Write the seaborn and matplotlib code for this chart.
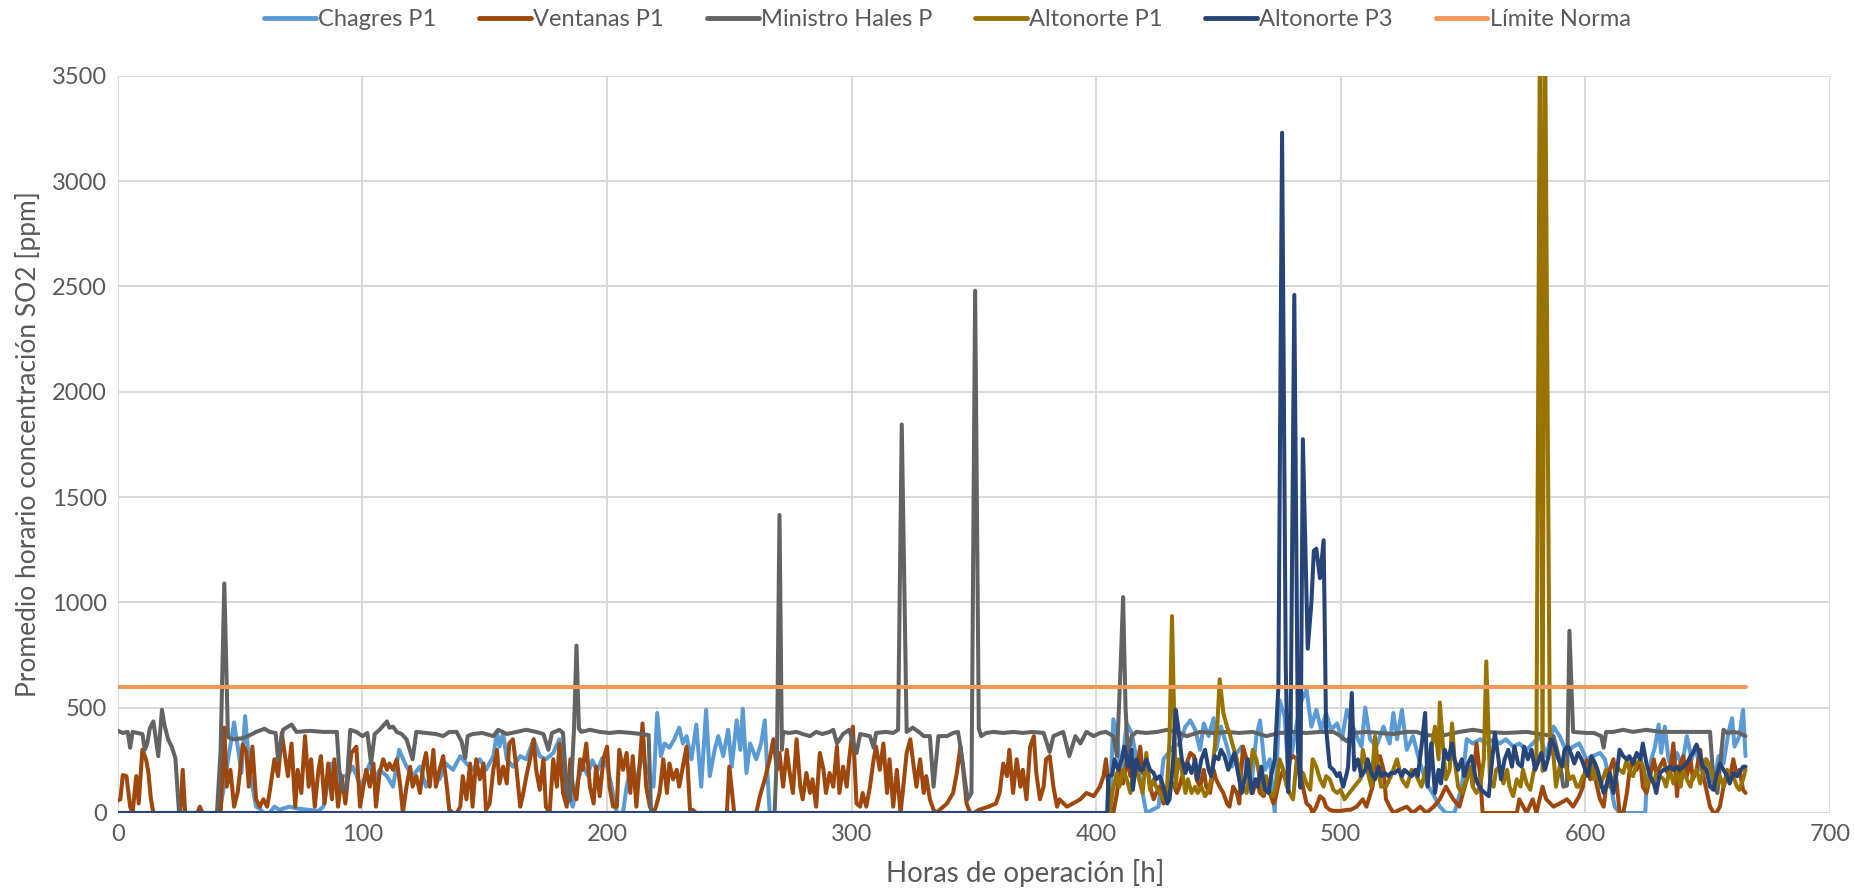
import matplotlib
matplotlib.use("Agg")
import matplotlib.pyplot as plt
import seaborn as sns
import pandas as pd

# (hora, ppm)
chagres = [(0,0),(41.5,0),(43,100),(45,250),(47.5,430),(49,315),(50.5,190),(52,460),(54,190),(55.5,95),(56.5,30),(58,20),(59.5,0),(62,0),(64,30),(66,15),(70,30),(74,20),(78,15),(82,10),(84,30),(86,150),(87.5,235),(89,200),(90.5,125),(92,175),(93.5,175),(95,200),(96,220),(97.5,180),(99,125),(101,170),(103,235),(105,160),(107,205),(110,175),(112.5,125),(115,300),(118,220),(120.5,175),(123.5,220),(126,125),(129,205),(131.5,160),(134,235),(137,205),(140,270),(142.5,235),(145,205),(148,255),(150.5,205),(153.5,270),(155,385),(156,315),(157.5,380),(159,255),(161.5,220),(164.5,270),(167,255),(170,350),(172.5,270),(175,255),(178,285),(180.5,350),(182,200),(183.5,95),(186,30),(188,150),(190,230),(192,180),(194,250),(196,200),(198,260),(200,220),(202,120),(204,0),(206.5,0),(208,125),(209.5,205),(212,160),(214.5,270),(217,190),(219,125),(220.5,475),(222,270),(223.5,330),(225.5,310),(227.5,350),(229.5,405),(231,330),(232.5,365),(234.5,255),(236.5,420),(238.5,125),(240.5,490),(242,175),(244,300),(245.5,365),(247.5,270),(249.5,395),(251,220),(253,440),(254.5,300),(255.5,495),(257,190),(258.5,330),(261,255),(263,330),(264.5,440),(265.5,205),(266.5,0),(405.5,0),(407,445),(408.5,380),(410,175),(412.5,425),(414.5,380),(416.5,255),(418.5,125),(420.5,0),(425.5,30),(427.5,255),(429.5,285),(431.5,315),(434,330),(436.5,410),(438.5,440),(440.5,395),(442.5,300),(444,425),(446,365),(448,450),(449,300),(451,410),(453.5,315),(455.5,220),(457.5,285),(459.5,315),(461.5,205),(463.5,140),(465.5,365),(467,440),(469,205),(471,255),(473,0),(475,535),(477,460),(478.5,205),(480,285),(482,425),(484,535),(486,585),(488,410),(490,490),(492,395),(494,475),(496,395),(498.5,425),(500.5,350),(502.5,490),(505,410),(507,350),(508.5,315),(510,500),(512,350),(514.5,315),(517.5,410),(520,330),(521.5,475),(523,350),(525,490),(527,300),(529.5,365),(532,255),(535,140),(537.5,95),(540.5,30),(543,0),(546.5,0),(548,65),(549.5,125),(551.5,350),(554,330),(557,350),(559.5,330),(562.5,350),(565,330),(567.5,350),(570.5,315),(573,330),(576,300),(578.5,330),(581.5,365),(584,270),(587,410),(589.5,365),(592.5,285),(595,315),(597.5,330),(600.5,255),(603,270),(606,285),(608,255),(609.5,175),(611,95),(612,30),(614,0),(624.5,0),(625,125),(627,255),(628.5,315),(630,420),(631,285),(632.5,410),(634,255),(635.5,205),(637.5,285),(639.5,220),(641.5,365),(643.5,255),(645,315),(647,205),(649,255),(651,190),(652.5,140),(654.5,270),(656.5,235),(658.5,380),(660,450),(661,315),(663,365),(664.5,490),(665.5,270)]

ventanas = [(0,60),(1,65),(2,180),(3.5,175),(5,30),(6,0),(7.5,175),(8.5,45),(10,300),(11.5,255),(12.5,190),(13.5,65),(14.5,0),(25.5,0),(26.5,205),(27.5,0),(32.5,0),(33.5,30),(34.5,0),(42,0),(43.5,405),(44.5,125),(46,205),(47.5,30),(49,100),(50,205),(51,325),(52.5,290),(53.5,125),(55,315),(56.5,65),(58,30),(59.5,65),(61,30),(62,95),(64,255),(65.5,175),(67,380),(68.5,255),(69.5,175),(71,330),(72.5,30),(73.5,205),(75,95),(76.5,365),(78,125),(79,255),(80.5,30),(82,205),(83,270),(84.5,45),(86,235),(87.5,65),(88.5,255),(90,30),(91.5,175),(93,45),(94,160),(95.5,285),(97.5,315),(99,30),(100,100),(101.5,205),(103,125),(104.5,235),(105.5,30),(107,190),(108.5,255),(110,205),(111,235),(112.5,205),(114,255),(115.5,125),(116.5,0),(118,125),(119.5,220),(120.5,125),(122,175),(123.5,95),(125,235),(126,285),(127.5,125),(129,300),(130,125),(131.5,205),(133,270),(134.5,125),(135.5,15),(137,0),(138.5,0),(140,30),(141,175),(142.5,65),(144,235),(145,30),(146.5,255),(148,160),(149.5,235),(150.5,15),(152,45),(153.5,205),(155,300),(156,140),(157.5,220),(159,140),(160,330),(161.5,350),(163,205),(164.5,30),(165.5,80),(167,175),(168.5,255),(170,350),(171,205),(172.5,110),(174,255),(175,30),(176.5,0),(178,255),(179.5,125),(180.5,330),(182,95),(183.5,30),(185,255),(186,125),(187.5,65),(189,255),(190,205),(191.5,330),(193,125),(194.5,45),(195.5,220),(197,80),(198.5,255),(200,315),(201,125),(202.5,30),(204,30),(205,300),(206.5,205),(208,285),(209.5,95),(210.5,270),(212,30),(213.5,255),(214.5,425),(216,125),(217.5,30),(219,0),(220,30),(221.5,95),(223,255),(224.5,95),(225.5,235),(227,160),(228.5,205),(229.5,125),(231,220),(232.5,315),(234,0),(235,15),(236.5,0),(249,0),(250,220),(252,0),(261,0),(262.5,80),(264.5,160),(266.5,255),(268,350),(269.5,205),(270.5,285),(272,125),(273.5,300),(274.5,205),(276,95),(277.5,350),(279,125),(280,65),(281.5,190),(283,95),(284,160),(285.5,30),(287,285),(288.5,205),(289.5,95),(291,190),(292.5,125),(294,315),(295,95),(296.5,220),(298,125),(299,255),(300.5,410),(302,45),(303.5,30),(304.5,95),(306,30),(307.5,125),(309,255),(310,315),(311.5,205),(313,330),(314.5,95),(315.5,255),(317,30),(318.5,205),(320,0),(321,110),(322.5,285),(324,350),(325,255),(326.5,125),(328,255),(329.5,95),(330.5,175),(332,65),(333.5,15),(335,0),(336,15),(339,45),(341.5,95),(343,190),(344.5,315),(345.5,220),(347,45),(348.5,0),(350,0),(352,15),(356,30),(359,45),(360.5,95),(362,235),(363.5,175),(364.5,300),(366,95),(367.5,255),(369,125),(370,205),(371.5,65),(373,315),(374.5,365),(375.5,190),(377,65),(378.5,125),(379.5,255),(381,270),(382.5,125),(384,30),(385,65),(388,30),(390.5,45),(393.5,65),(396,95),(399,80),(401.5,125),(403,175),(404,255),(405,130),(406,0),(407,0),(408.5,95),(409.5,205),(411,140),(412.5,255),(414,175),(415,255),(416.5,205),(418,315),(419,190),(420.5,255),(422,125),(423.5,65),(424.5,95),(426,125),(427.5,45),(429,80),(430,125),(431.5,140),(433,95),(434,125),(435.5,190),(437,235),(438.5,285),(440,270),(441,160),(442.5,125),(444,205),(445,125),(446.5,95),(448,205),(449,160),(450.5,125),(452,95),(453.5,45),(454.5,30),(456,125),(457.5,95),(458.5,45),(460,315),(461.5,255),(463,140),(464,95),(465.5,160),(467,95),(468.5,80),(469.5,125),(471,95),(472.5,45),(473.5,80),(475,160),(476.5,205),(478,125),(479,255),(480.5,270),(482,255),(483.5,205),(484.5,125),(486,45),(487.5,30),(488.5,0),(490,30),(491.5,80),(493,65),(494,30),(495.5,15),(497,10),(500,10),(502.5,15),(504,15),(506.5,30),(509,65),(510.5,30),(513,125),(514.5,255),(516,270),(517.5,205),(518.5,65),(520,30),(521.5,0),(524,15),(527,30),(529.5,0),(532.5,30),(535,0),(538,30),(540.5,65),(543,125),(546,65),(548.5,30),(550,95),(553,220),(554,125),(555.5,330),(557,175),(558,0),(572,0),(573,65),(576,0),(578.5,65),(580,0),(582.5,125),(584,65),(587,30),(589.5,45),(592.5,65),(595,30),(597.5,80),(599,125),(600.5,250),(602,160),(603,235),(604.5,140),(606,65),(607.5,30),(608.5,125),(610,205),(611.5,255),(613,125),(614,0),(615.5,0),(617,95),(618,190),(619.5,255),(621,205),(622.5,255),(623.5,125),(625,95),(626.5,175),(628,255),(629,190),(630.5,220),(632,255),(633,205),(634.5,175),(636,330),(637.5,80),(638.5,220),(640,270),(641.5,175),(643,255),(644,160),(645.5,205),(647,300),(648,190),(649.5,110),(651,30),(652.5,0),(653.5,0),(655,30),(656.5,125),(658,175),(659,160),(660.5,255),(662,175),(663,205),(664.5,110),(665.5,95)]

ministro_hales = [(0,390),(2,380),(4,385),(5,310),(6,385),(8,380),(10,375),(11,300),(12,330),(13,400),(14.5,435),(16.5,270),(18,490),(19,420),(20.5,350),(22,315),(23.5,260),(25,0),(40.5,0),(42,300),(43.5,1090),(45,360),(47,350),(51,355),(54,370),(56.5,385),(60,400),(62,385),(64.5,380),(65.5,255),(67.5,395),(71,420),(73,385),(78.5,390),(84,385),(89.5,385),(90.5,205),(92,110),(93.5,125),(95,395),(97.5,385),(100,365),(102,380),(103.5,235),(105,375),(107,395),(110,435),(111,405),(112.5,410),(114,385),(116,375),(118,350),(120.5,255),(122,385),(126,380),(130,375),(133,365),(135.5,385),(138.5,385),(140.5,340),(142,260),(143,365),(145,375),(149,380),(153.5,365),(155.5,395),(159,375),(163,385),(167,395),(171,385),(174,375),(176,300),(177.5,380),(180.5,395),(182,380),(183.5,100),(185,60),(186.5,400),(187.5,795),(188.5,400),(189.5,385),(193,395),(197,385),(201,380),(205,385),(210,380),(214,375),(217,370),(218,0),(268.5,0),(269.5,300),(270.5,1415),(271.5,300),(272,385),(274.5,380),(277.5,385),(280,375),(283,365),(285.5,385),(288,375),(291,385),(292.5,395),(294,330),(296.5,375),(299,395),(302,285),(303.5,375),(307.5,365),(309,310),(310,380),(314,385),(317,380),(319,395),(320.5,1845),(322.5,385),(325,405),(327.5,385),(329.5,365),(332,365),(333.5,125),(335.5,365),(339,365),(341.5,380),(343.5,385),(344.5,315),(346.5,140),(347.5,65),(349,95),(350.5,2480),(352,400),(353,365),(355,380),(358,385),(362,380),(366,385),(370,380),(374,385),(378.5,380),(381,290),(382.5,365),(386.5,385),(389,270),(391.5,365),(393.5,330),(396,385),(399,365),(401.5,380),(404,385),(407,365),(408.5,270),(410,700),(411,1025),(412,500),(413,270),(414.5,365),(416.5,385),(420.5,380),(425,385),(429,395),(433,385),(437,365),(442.5,385),(448,380),(453.5,385),(458.5,380),(464,385),(469.5,365),(475,380),(480.5,385),(486,380),(491.5,385),(497,385),(500,365),(502.5,340),(505,380),(510.5,385),(516,380),(521.5,375),(524,380),(527,385),(531,385),(535,370),(540.5,365),(548.5,385),(554,395),(559.5,385),(567.5,380),(576,385),(581.5,375),(587,365),(589.5,250),(591,125),(592.5,130),(593.5,865),(595,385),(600.5,380),(603.5,380),(606.5,365),(607.5,310),(608.5,385),(611.5,385),(615.5,395),(619.5,385),(625,395),(630.5,385),(636,385),(641.5,385),(647,385),(651,385),(652.5,130),(654,95),(656.5,395),(658,380),(660.5,385),(663,380),(665.5,365)]

altonorte_p1 = [(0,0),(405.5,0),(407,125),(408.5,190),(409.5,125),(411,205),(412.5,160),(414,95),(415,175),(416.5,205),(418,140),(419,95),(420.5,285),(422,110),(423.5,160),(424.5,125),(426,95),(427.5,65),(429,125),(430,350),(431,935),(432,380),(432.5,125),(433.5,255),(435,205),(436.5,95),(437.5,160),(439,95),(440.5,125),(441.5,95),(443,125),(444.5,80),(446,110),(447,160),(448.5,315),(449.5,410),(450.5,635),(452,475),(453.5,410),(454.5,380),(456,315),(457.5,255),(458.5,205),(460,125),(461.5,95),(463,205),(464,300),(465.5,255),(467,160),(468.5,95),(469.5,175),(471,95),(472.5,80),(473.5,125),(475,255),(476.5,205),(478,125),(479,95),(480.5,65),(482,255),(483.5,160),(484.5,190),(486,140),(487.5,110),(488.5,255),(490,220),(491.5,160),(493,125),(494,175),(495.5,160),(497,110),(498.5,95),(500,110),(501.5,65),(503.5,95),(505.5,125),(508,160),(509,300),(510.5,220),(512.5,125),(514,365),(515.5,190),(516.5,125),(518.5,125),(520.5,175),(523,255),(525,160),(527,125),(529,205),(531,175),(533,125),(535,220),(536.5,255),(538.5,410),(540,255),(540.5,525),(542,285),(543,160),(544.5,205),(545.5,425),(546.5,255),(548,125),(549.5,95),(551.5,160),(553,220),(554,125),(555.5,95),(557,125),(558.5,255),(559.5,720),(561,160),(562.5,125),(563.5,205),(565,220),(566.5,140),(568,205),(569,125),(570.5,80),(572,160),(573.5,125),(574.5,205),(576,140),(577.5,110),(578.5,175),(580,255),(581.5,3900),(582.5,200),(583.5,3800),(585.5,330),(587,270),(588,125),(589.5,220),(591,255),(592.5,205),(593.5,160),(595,175),(596.5,125),(597.5,125),(599,175),(600.5,190),(602,255),(603.5,160),(604.5,205),(606,125),(607.5,175),(608.5,205),(610,125),(611.5,160),(613,220),(614,205),(615.5,190),(617,255),(618,205),(619.5,175),(621,235),(622.5,255),(624,205),(625,125),(626.5,175),(628,140),(629,190),(630.5,175),(632,160),(633,125),(634.5,205),(636,140),(637.5,190),(639,125),(640,205),(641.5,160),(643,125),(644,175),(645.5,205),(647,140),(648,190),(649.5,255),(651,220),(652.5,160),(653.5,125),(655,175),(656.5,125),(658,205),(659,160),(660.5,175),(662,125),(663,110),(664.5,160),(665.5,205)]

altonorte_p3 = [(0,0),(404.5,0),(405,175),(406.5,180),(407.5,255),(409,205),(410.5,255),(411.5,315),(413,220),(414.5,300),(415,110),(416.5,255),(418,205),(419,205),(420.5,255),(422,205),(423.5,190),(424.5,160),(426,175),(427.5,125),(429,45),(430,65),(431.5,255),(432.5,490),(433.5,410),(435,255),(436.5,190),(437.5,235),(439,190),(440.5,255),(441.5,160),(443,255),(444.5,300),(446,205),(447,175),(448.5,270),(450,255),(451,300),(452.5,270),(454,205),(455.5,255),(456.5,285),(458,190),(459.5,95),(461,175),(462,255),(463.5,95),(465,160),(466,125),(467.5,220),(469,110),(470.5,95),(471.5,175),(473,255),(474.5,600),(476,3230),(477.5,700),(478.5,100),(479.5,400),(481,2460),(482.5,300),(483.5,120),(484.5,1775),(486.5,780),(488,1000),(489,1245),(490,1255),(491.5,1115),(493,1295),(494,400),(495.5,220),(497,205),(498.5,175),(499.5,190),(501,125),(502.5,190),(503,220),(504.5,570),(505.5,205),(507,255),(508.5,175),(510,205),(511,255),(512.5,190),(514,160),(515.5,220),(516.5,175),(518,190),(519.5,175),(520.5,190),(522,190),(523.5,205),(525,175),(526,205),(527.5,190),(529,175),(530.5,205),(531.5,175),(533,315),(534.5,475),(535.5,125),(537,330),(538.5,95),(540,205),(541,140),(542.5,300),(544,255),(545.5,330),(546.5,255),(548,205),(549.5,255),(550.5,175),(552,235),(553.5,270),(555,175),(556,140),(557.5,110),(559,95),(560.5,80),(561.5,205),(563,380),(564.5,255),(565.5,160),(567,255),(568.5,300),(570,220),(571,315),(572.5,235),(574,220),(575,315),(576.5,255),(578,300),(579.5,205),(580.5,235),(582,285),(583.5,205),(585,270),(586,350),(587.5,315),(589,255),(590.5,220),(591.5,300),(593,315),(594.5,270),(595.5,235),(597,285),(598.5,255),(600,205),(601,175),(602.5,270),(604,235),(605,205),(606,160),(607.5,95),(608.5,125),(610,190),(611.5,95),(613,205),(614,300),(615.5,270),(617,255),(618,270),(619.5,235),(621,285),(622.5,255),(623.5,330),(625,235),(626.5,175),(628,140),(629,95),(630.5,190),(632,205),(633,205),(634.5,220),(636,205),(637.5,220),(638.5,205),(640,220),(641.5,235),(643,270),(644,285),(645.5,325),(647,270),(648,220),(649.5,205),(651,125),(652.5,110),(653.5,175),(655,235),(656.5,205),(658,175),(659,140),(660.5,190),(662,175),(663,190),(664.5,220),(665.5,220)]

limite_norma = [(0,600),(665.5,600)]

series_names = ["Chagres P1", "Ventanas P1", "Ministro Hales P", "Altonorte P1", "Altonorte P3", "Límite Norma"]
series_data = [chagres, ventanas, ministro_hales, altonorte_p1, altonorte_p3, limite_norma]
colors = ["#5B9BD5", "#9E480E", "#636363", "#997300", "#264478", "#F1975A"]

x_ticks = [0, 100, 200, 300, 400, 500, 600, 700]
y_ticks = [0, 500, 1000, 1500, 2000, 2500, 3000, 3500]

frames = []
for name, pts in zip(series_names, series_data):
    d = pd.DataFrame(pts, columns=["hora", "ppm"])
    d["serie"] = name
    frames.append(d)
df = pd.concat(frames, ignore_index=True)

sns.set_style("white")
plt.rcParams["font.family"] = ["Lato", "DejaVu Sans"]
text_color = "#595959"

fig = plt.figure(figsize=(18.54, 8.93), dpi=100)
ax = fig.add_axes([0.0636, 0.0896, 0.9234, 0.8254])

sns.lineplot(data=df, x="hora", y="ppm", hue="serie", hue_order=series_names,
             palette=colors, estimator=None, sort=False, linewidth=2.9, ax=ax)
for line in ax.lines:
    line.set_solid_joinstyle("round")

ax.set_xlim(0, 700)
ax.set_ylim(0, 3500)
ax.set_xticks(x_ticks)
ax.set_yticks(y_ticks)
ax.grid(True, color="#D9D9D9", linewidth=1.4)
ax.set_axisbelow(True)
for s in ax.spines.values():
    s.set_visible(False)
ax.tick_params(axis="both", length=0, labelsize=17, colors=text_color, pad=8)

ax.set_xlabel("Horas de operación [h]", fontsize=20, color=text_color)
ax.xaxis.set_label_coords(0.53, -0.062)
ax.set_ylabel("Promedio horario concentración SO2 [ppm]", fontsize=19, color=text_color, labelpad=8)

handles, labels = ax.get_legend_handles_labels()
ax.legend(handles, labels, loc="center", bbox_to_anchor=(0.511, 0.978),
          bbox_transform=fig.transFigure, ncol=6, frameon=False,
          fontsize=17, labelcolor=text_color, handlelength=2.2,
          handletextpad=0.1, columnspacing=1.8)
for h in ax.get_legend().get_lines():
    h.set_linewidth(3.5)

fig.savefig("out.png", dpi=100)
